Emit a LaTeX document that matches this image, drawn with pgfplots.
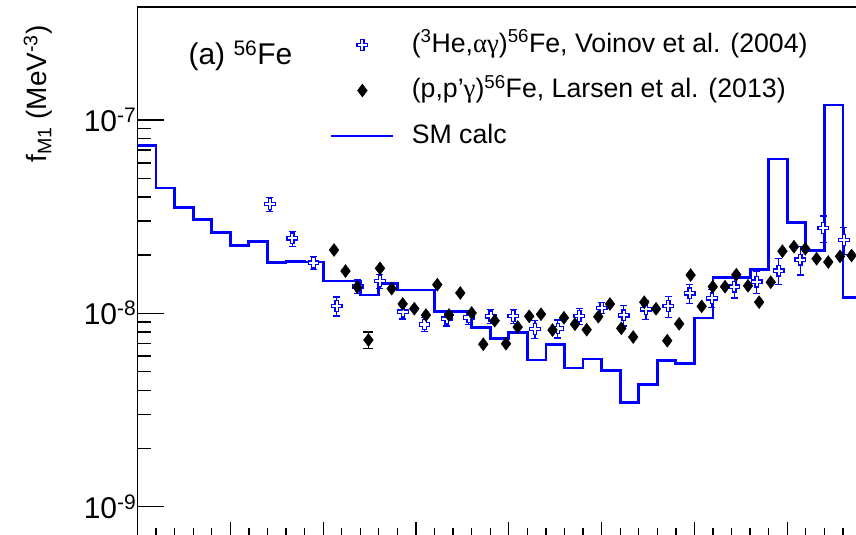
\documentclass[border=0pt]{standalone}
\usepackage{pgfplots}
\pgfplotsset{compat=1.18}
\usepackage{fontspec}
\setmainfont{Liberation Sans}
\newfontfamily\symf{Liberation Serif}
\definecolor{rblue}{RGB}{0,0,255}

\pgfdeclareplotmark{opencross}{%
  \pgfpathmoveto{\pgfqpoint{0.32\pgfplotmarksize}{\pgfplotmarksize}}%
  \pgfpathlineto{\pgfqpoint{0.32\pgfplotmarksize}{0.32\pgfplotmarksize}}%
  \pgfpathlineto{\pgfqpoint{\pgfplotmarksize}{0.32\pgfplotmarksize}}%
  \pgfpathlineto{\pgfqpoint{\pgfplotmarksize}{-0.32\pgfplotmarksize}}%
  \pgfpathlineto{\pgfqpoint{0.32\pgfplotmarksize}{-0.32\pgfplotmarksize}}%
  \pgfpathlineto{\pgfqpoint{0.32\pgfplotmarksize}{-\pgfplotmarksize}}%
  \pgfpathlineto{\pgfqpoint{-0.32\pgfplotmarksize}{-\pgfplotmarksize}}%
  \pgfpathlineto{\pgfqpoint{-0.32\pgfplotmarksize}{-0.32\pgfplotmarksize}}%
  \pgfpathlineto{\pgfqpoint{-\pgfplotmarksize}{-0.32\pgfplotmarksize}}%
  \pgfpathlineto{\pgfqpoint{-\pgfplotmarksize}{0.32\pgfplotmarksize}}%
  \pgfpathlineto{\pgfqpoint{-0.32\pgfplotmarksize}{0.32\pgfplotmarksize}}%
  \pgfpathlineto{\pgfqpoint{-0.32\pgfplotmarksize}{\pgfplotmarksize}}%
  \pgfpathclose
  \pgfusepathqfillstroke
}

\pgfplotstableread{
x y
0.0 7.36e-8
0.2 4.45e-8
0.4 3.53e-8
0.6 3.07e-8
0.8 2.62e-8
1.0 2.25e-8
1.2 2.35e-8
1.4 1.83e-8
1.6 1.86e-8
1.8 1.84e-8
2.0 1.47e-8
2.2 1.47e-8
2.4 1.243e-8
2.6 1.43e-8
2.8 1.32e-8
3.0 1.32e-8
3.2 1.02e-8
3.4 1.02e-8
3.6 8.46e-9
3.8 7.42e-9
4.0 7.93e-9
4.2 5.73e-9
4.4 6.91e-9
4.6 5.21e-9
4.8 5.80e-9
5.0 5.06e-9
5.2 3.44e-9
5.4 4.27e-9
5.6 5.69e-9
5.8 5.51e-9
6.0 9.45e-9
6.2 1.53e-8
6.4 1.53e-8
6.6 1.69e-8
6.8 6.28e-8
7.0 2.95e-8
7.2 2.12e-8
7.4 1.196e-7
7.6 1.21e-8
7.8 1.21e-8
}\smcalc

\pgfplotstableread{
x y e
1.427 3.67e-8 0.083
1.668 2.44e-8 0.089
1.896 1.826e-8 0.077
2.146 1.090e-8 0.113
2.373 1.375e-8 0.083
2.612 1.469e-8 0.083
2.860 1.019e-8 0.083
3.092 8.745e-9 0.083
3.331 9.37e-9 0.083
3.569 9.506e-9 0.083
3.805 9.654e-9 0.083
4.048 9.678e-9 0.083
4.282 8.307e-9 0.107
4.528 8.338e-9 0.107
4.759 9.678e-9 0.095
5.001 1.0646e-8 0.063
5.238 9.759e-9 0.119
5.478 1.048e-8 0.115
5.718 1.090e-8 0.125
5.949 1.268e-8 0.113
6.189 1.195e-8 0.107
6.429 1.372e-8 0.125
6.670 1.456e-8 0.131
6.907 1.661e-8 0.155
7.140 1.893e-8 0.167
7.388 2.761e-8 0.155
7.611 2.393e-8 0.158
}\voinov

\pgfplotstableread{
x y
2.117 2.125e-8
2.241 1.654e-8
2.368 1.367e-8
2.488 7.27e-9
2.612 1.708e-8
2.738 1.340e-8
2.857 1.117e-8
2.982 1.056e-8
3.108 9.793e-9
3.230 1.405e-8
3.356 9.793e-9
3.477 1.273e-8
3.600 1.003e-8
3.725 6.915e-9
3.848 9.150e-9
3.970 6.957e-9
4.096 8.487e-9
4.220 9.643e-9
4.347 9.887e-9
4.471 8.189e-9
4.594 9.473e-9
4.713 8.775e-9
4.839 8.219e-9
4.964 9.598e-9
5.090 1.117e-8
5.212 8.357e-9
5.340 7.535e-9
5.459 1.141e-8
5.586 1.054e-8
5.707 7.211e-9
5.835 8.818e-9
5.959 1.577e-8
6.078 1.086e-8
6.197 1.372e-8
6.329 1.372e-8
6.451 1.583e-8
6.577 1.387e-8
6.697 1.141e-8
6.822 1.448e-8
6.948 2.095e-8
7.072 2.210e-8
7.194 2.155e-8
7.316 1.915e-8
7.442 1.842e-8
7.568 1.969e-8
7.693 1.990e-8
}\larsen

\pgfplotstableread{
x y e
2.488 7.27e-9 0.099
}\larsenerr

\begin{document}
\begin{tikzpicture}
\begin{axis}[
  at={(137.5pt,-0.5pt)}, anchor=south west,
  scale only axis, width=742.6pt, height=528.5pt,
  xmin=0, xmax=8, ymode=log, ymin=7.08e-10, ymax=3.843e-7,
  axis line style={line width=1.5pt},
  tick style={line width=1.3pt, black},
  tick align=inside,
  major tick length=26pt, minor tick length=13pt,
  xtick=\empty,
  ytick={1e-9,1e-8,1e-7},
  yticklabels={10\textsuperscript{-9},10\textsuperscript{-8},10\textsuperscript{-7}},
  ytick pos=left,
  yticklabel style={font=\fontsize{30}{32}\selectfont, inner sep=1pt},
  legend cell align=left,
  legend style={at={(0.2592,0.9527)}, anchor=north west, draw=none, fill=none,
    inner sep=0pt, outer sep=0pt, row sep=19.5pt, column sep=17pt,
    font=\fontsize{26.7}{28}\selectfont,
    nodes={inner sep=0pt, text height=20pt, text depth=6pt}},
  legend image code/.code={\draw[mark repeat=2,mark phase=2,#1] plot coordinates {(0pt,0pt) (31pt,0pt) (62pt,0pt)};},
]
\addplot[const plot, rblue, line width=2.8pt, forget plot] table[x=x,y=y] {\smcalc};
\addplot[only marks, mark=opencross, mark size=5.3pt, rblue,
  mark options={fill=white, line width=1.2pt},
  error bars/.cd, y dir=both, y explicit relative,
  error bar style={line width=1.2pt, rblue},
  error mark options={rotate=90, line width=1.2pt, rblue, mark size=3.5pt}]
  table[x=x, y=y, y error=e] {\voinov};
\addlegendentry{(\textsuperscript{3}He,{\symf αγ})\textsuperscript{56}Fe, Voinov et al. (2004)}
\addplot[only marks, mark=diamond*, mark size=6.5pt, black] table[x=x,y=y] {\larsen};
\addlegendentry{(p,p'{\symf γ})\textsuperscript{56}Fe, Larsen et al. (2013)}
\addplot[only marks, mark=none, black, forget plot,
  error bars/.cd, y dir=both, y explicit relative,
  error bar style={line width=1.3pt, black},
  error mark options={rotate=90, line width=1.3pt, black, mark size=5pt}]
  table[x=x, y=y, y error=e] {\larsenerr};
\addlegendimage{rblue, line width=2.8pt}
\addlegendentry{SM calc}
\end{axis}
\begin{axis}[
  at={(137.5pt,-0.5pt)}, anchor=south west,
  scale only axis, width=742.6pt, height=528.5pt,
  xmin=0, xmax=8, ymode=log, ymin=7.08e-10, ymax=3.843e-7,
  axis line style={draw=none},
  tick style={line width=1.3pt, black},
  tick align=inside,
  major tick length=13.5pt, minor tick length=7.5pt,
  xtick={0,1,2,3,4,5,6,7,8}, minor x tick num=4,
  xticklabels={}, xtick pos=left,
  ytick=\empty,
]
\end{axis}
\node[anchor=base west, font=\fontsize{30}{32}\selectfont] at (185pt,470pt) {(a) \textsuperscript{56}Fe};
\node[rotate=90, font=\fontsize{28}{30}\selectfont] at (38pt,441pt) {f\textsubscript{M1} (MeV\textsuperscript{-3})};
\pgfresetboundingbox
\path[use as bounding box] (0pt,0pt) rectangle (856pt,535pt);
\end{tikzpicture}
\end{document}
